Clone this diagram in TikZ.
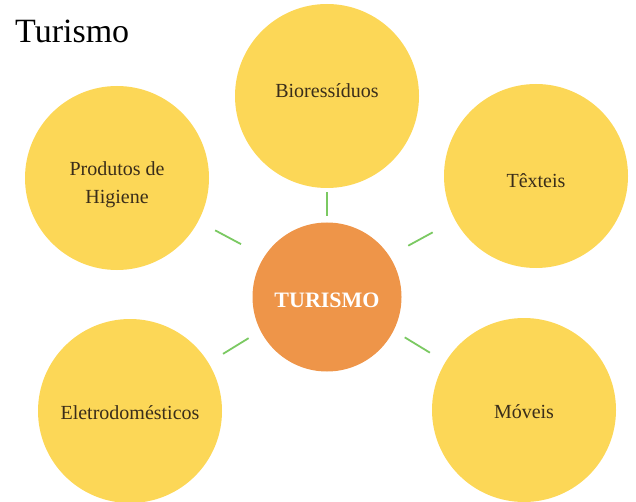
\documentclass[tikz,border=0pt]{standalone}
\usepackage{fontspec}
\setmainfont{Liberation Serif}
\definecolor{bubble}{HTML}{FCD757}
\definecolor{hub}{HTML}{EE9549}
\definecolor{linkgreen}{HTML}{7BC962}
\definecolor{ink}{HTML}{3A2D1A}
\begin{document}
\begin{tikzpicture}[x=1pt,y=-1pt,
  outer/.style={circle,fill=bubble,draw=none,inner sep=0pt,minimum size=184pt},
  txt/.style={text=ink,align=center,inner sep=0pt,font=\fontsize{20}{28}\selectfont},
  center/.style={circle,fill=hub,draw=none,inner sep=0pt,minimum size=149pt},
  hubtxt/.style={text=white,inner sep=0pt,font=\fontsize{22}{24}\selectfont\bfseries},
  link/.style 2 args={draw=linkgreen,line width=1.8pt,shorten <=#1pt,shorten >=#2pt}]
\useasboundingbox (0,0) rectangle (636,502);
\node[anchor=base west,font=\fontsize{34}{38}\selectfont,text=black,inner sep=0pt] (title) at (15,43) {Turismo};
\node[center,label={[hubtxt,yshift=-3pt]center:TURISMO}] (c) at (327,297) {};
\node[outer,label={[txt,yshift=5pt]center:Bioressíduos}] (b) at (327,96) {};
\node[outer,label={[txt,yshift=-7pt]center:Produtos de\\Higiene}] (p) at (117,178) {};
\node[outer,label={[txt,yshift=-5pt]center:Têxteis}] (t) at (536,176) {};
\node[outer,label={[txt,yshift=-2pt]center:Eletrodomésticos}] (e) at (130,411) {};
\node[outer,label={[txt,yshift=-2pt]center:Móveis}] (m) at (524,410) {};
\draw[link={74}{4}] ([yshift=7pt]c.center) -- (b);
\draw[link={97.5}{19}] ([yshift=7pt]c.center) -- (p);
\draw[link={92.5}{25.5}] ([yshift=7pt]c.center) -- (t);
\draw[link={92}{17}] ([yshift=7pt]c.center) -- (e);
\draw[link={91}{18}] ([yshift=7pt]c.center) -- (m);
\end{tikzpicture}
\end{document}
